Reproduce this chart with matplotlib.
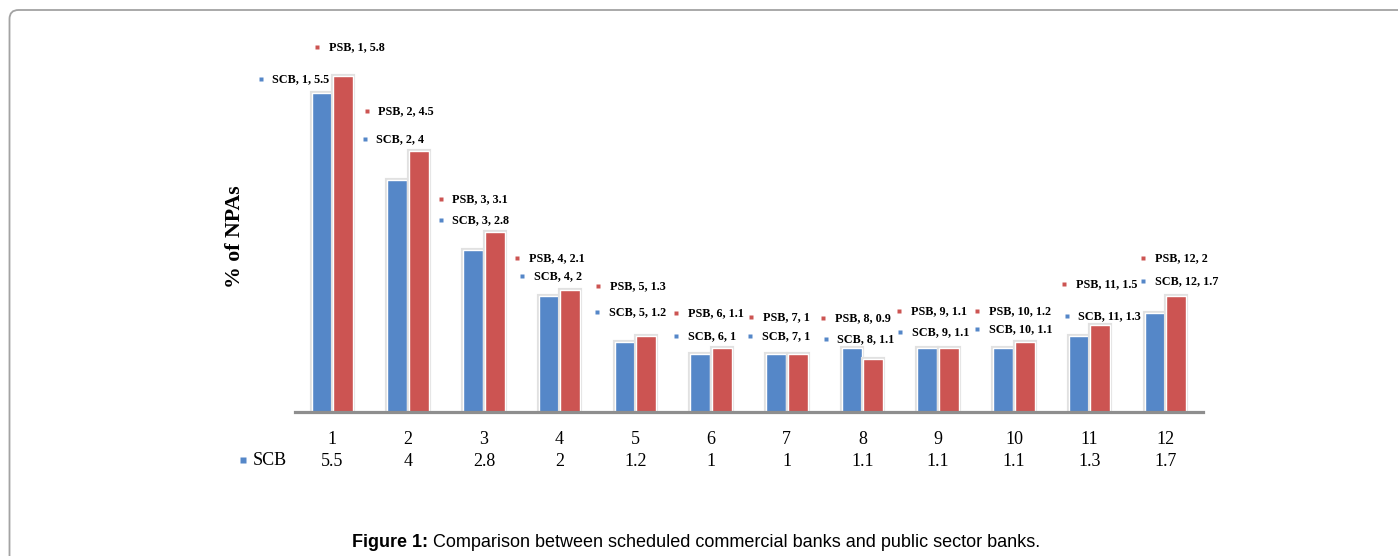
import numpy as np
import matplotlib
matplotlib.use("Agg")
import matplotlib.pyplot as plt
import matplotlib.patheffects as pe
import matplotlib.transforms as mtransforms
from matplotlib.patches import FancyBboxPatch

# ---- data -------------------------------------------------------------
categories = [str(i) for i in range(1, 13)]
scb = [5.5, 4, 2.8, 2, 1.2, 1, 1, 1.1, 1.1, 1.1, 1.3, 1.7]
psb = [5.8, 4.5, 3.1, 2.1, 1.3, 1.1, 1, 0.9, 1.1, 1.2, 1.5, 2]
series_names = ["SCB", "PSB"]

# data-label placement: (dx, dy) in pixels from the top centre of a bar to
# its label swatch (dy measured downward)
scb_label_offsets = [(-60.7, -14.0), (-32.4, -41.1), (-32.1, -29.5), (-26.8, -19.8),
                     (-27.5, -30.1), (-24.2, -17.7), (-25.9, -17.7), (-25.9, -8.9),
                     (-27.3, -16.2), (-26.0, -18.9), (-12.0, -20.3), (-11.1, -32.5)]
psb_label_offsets = [(-26.0, -29.3), (-52.3, -40.2), (-53.7, -33.2), (-53.4, -32.0),
                     (-48.1, -50.3), (-45.8, -34.9), (-46.5, -36.7), (-49.9, -41.1),
                     (-49.6, -36.9), (-47.3, -31.1), (-36.0, -40.4), (-32.7, -37.5)]

# ---- style ------------------------------------------------------------
W, H, DPI = 1398, 556, 100
PT = 72.0 / DPI                      # points per pixel
BLUE = "#5587C8"
RED = "#CC5452"
SERIF = "Liberation Serif"
SANS = "Liberation Sans"


def fx(x):
    return x / W


def fy(y):
    return 1 - y / H


fig = plt.figure(figsize=(W / DPI, H / DPI), dpi=DPI)
fig.patch.set_facecolor("white")

# rounded frame running off the right and bottom edges
frame = FancyBboxPatch((9.5 / DPI, -1.0), 20.0, (H - 10) / DPI + 1.0,
                       boxstyle="round,pad=0,rounding_size=0.09",
                       transform=fig.dpi_scale_trans, facecolor="none",
                       edgecolor="#a3a3a3", linewidth=1.3, zorder=0)
fig.patches.append(frame)

ax = fig.add_axes([fx(294.6), fy(411.5), fx(908.6), 381.8 / H])
ax.set_xlim(0.5, 12.5)
ax.set_ylim(0, 6.6)
ax.patch.set_alpha(0)
for side in ("top", "right", "left"):
    ax.spines[side].set_visible(False)
ax.spines["bottom"].set_color("#8e8e8e")
ax.spines["bottom"].set_linewidth(2.3)
ax.spines["bottom"].set_zorder(5)
ax.set_xticks([])
ax.set_yticks([])

x = np.arange(1, len(categories) + 1)
bar_w = 20 / 75.7
shift = 10.8 / 75.7
bar_fx = [pe.withStroke(linewidth=3.0, foreground="#e1e1e1")]

series = [(scb, BLUE, -shift, scb_label_offsets),
          (psb, RED, shift, psb_label_offsets)]

for (vals, color, off, offsets), name in zip(series, series_names):
    bars = ax.bar(x + off, vals, width=bar_w, color=color,
                  edgecolor="white", linewidth=1.0, zorder=3)
    for b in bars:
        b.set_path_effects(bar_fx)
    for xi, cat, v, (dx, dy) in zip(x + off, categories, vals, offsets):
        mtr = mtransforms.offset_copy(ax.transData, fig=fig,
                                      x=dx * PT, y=-dy * PT, units="points")
        ax.plot([xi], [v], marker="s", ms=3.0, color=color, mec="none",
                transform=mtr, clip_on=False, zorder=6)
        ttr = mtransforms.offset_copy(ax.transData, fig=fig,
                                      x=(dx + 11.5) * PT, y=-dy * PT,
                                      units="points")
        ax.text(xi, v, f"{name}, {cat}, {v:g}", transform=ttr,
                ha="left", va="center", fontsize=8.7, fontweight="bold",
                family=SERIF, color="black", clip_on=False, zorder=6)

# data table under the axis
xa = ax.get_xaxis_transform()
for xi, cat, v in zip(x, categories, scb):
    ax.annotate(cat, xy=(xi, 0), xycoords=xa, xytext=(0, -27.5 * PT),
                textcoords="offset points", ha="center", va="center",
                fontsize=13, family=SERIF)
    ax.annotate(f"{v:g}", xy=(xi, 0), xycoords=xa, xytext=(0, -50.0 * PT),
                textcoords="offset points", ha="center", va="center",
                fontsize=13, family=SERIF)

# table row key
fig.lines.append(plt.Line2D([fx(243)], [fy(460)], marker="s", ms=5.0,
                            color=BLUE, mec="none", transform=fig.transFigure))
fig.text(fx(252.5), fy(460.5), "SCB", ha="left", va="center",
         fontsize=13, family=SERIF)

# axis title
fig.text(fx(234.5), fy(237), "% of NPAs", rotation=90, ha="center",
         va="center", fontsize=15.7, fontweight="bold", family=SERIF)

# caption
cap1 = fig.text(fx(352), fy(542.5), "Figure 1:", ha="left", va="center",
                fontsize=13, fontweight="bold", family=SANS)
fig.add_artist(matplotlib.text.Annotation(
    " Comparison between scheduled commercial banks and public sector banks.",
    xy=(1, 0), xycoords=cap1, ha="left", va="bottom",
    fontsize=13, family=SANS))

fig.savefig("out.png", dpi=DPI, facecolor="white")
